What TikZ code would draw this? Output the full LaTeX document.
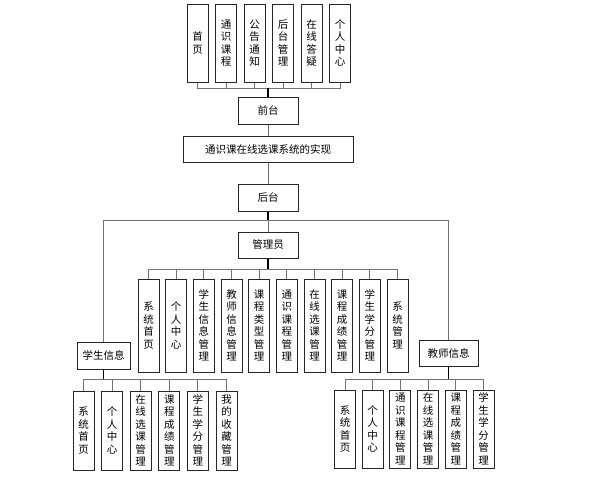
\documentclass[tikz,border=0pt]{standalone}
\usepackage{fontspec}
\newfontfamily\cjk{Noto Sans CJK SC}
\begin{document}
\begin{tikzpicture}[x=1pt,y=-1pt,
  every node/.style={font=\cjk\fontsize{10.5}{12.5}\selectfont},
  bx/.style={draw=black!85,line width=1pt,fill=white,inner sep=0pt,align=center},
  vbox/.style={bx,minimum width=21pt},
  ln/.style={draw=black!55,line width=1pt},
  tr/.style={draw=black,line width=1.2pt}]
\useasboundingbox (0,0) rectangle (601,482);
% top row
\foreach \n/\x/\t in {t1/197.5/{首\\页},t2/226/{通\\识\\课\\程},t3/254.5/{公\\告\\通\\知},t4/283/{后\\台\\管\\理},t5/311.5/{在\\线\\答\\疑},t6/340/{个\\人\\中\\心}}
  \node[vbox,minimum height=78pt] (\n) at (\x,43) {\t};
\node[bx,minimum width=60pt,minimum height=27pt] (qt) at (268,110.5) {前台};
\node[bx,minimum width=170pt,minimum height=26pt] (sys) at (268,149) {通识课在线选课系统的实现};
\node[bx,minimum width=60pt,minimum height=27pt] (ht) at (268,197.5) {后台};
\node[bx,minimum width=60pt,minimum height=26pt] (gly) at (268,245) {管理员};
\node[bx,minimum width=53pt,minimum height=27pt] (stu) at (103.5,355.5) {学生信息};
\node[bx,minimum width=59pt,minimum height=26pt] (tea) at (448.5,353) {教师信息};
% admin row
\foreach \n/\x/\t in {a1/148.5/{系\\统\\首\\页},a2/176.2/{个\\人\\中\\心},a3/203.8/{学\\生\\信\\息\\管\\理},a4/231.5/{教\\师\\信\\息\\管\\理},a5/259.2/{课\\程\\类\\型\\管\\理},a6/286.8/{通\\识\\课\\程\\管\\理},a7/314.5/{在\\线\\选\\课\\管\\理},a8/342.2/{课\\程\\成\\绩\\管\\理},a9/369.8/{学\\生\\学\\分\\管\\理},a10/397.5/{系\\统\\管\\理}}
  \node[vbox,minimum height=93pt] (\n) at (\x,325.5) {\t};
% student row
\foreach \n/\x/\t in {s1/83.5/{系\\统\\首\\页},s2/112.1/{个\\人\\中\\心},s3/140.7/{在\\线\\选\\课\\管\\理},s4/169.3/{课\\程\\成\\绩\\管\\理},s5/197.9/{学\\生\\学\\分\\管\\理},s6/226.5/{我\\的\\收\\藏\\管\\理}}
  \node[vbox,minimum height=79pt] (\n) at (\x,430.5) {\t};
% teacher row
\foreach \n/\x/\t in {e1/345/{系\\统\\首\\页},e2/372.7/{个\\人\\中\\心},e3/400.4/{通\\识\\课\\程\\管\\理},e4/428.1/{在\\线\\选\\课\\管\\理},e5/455.8/{课\\程\\成\\绩\\管\\理},e6/483.5/{学\\生\\学\\分\\管\\理}}
  \node[vbox,minimum height=78pt] (\n) at (\x,429) {\t};
% buses
\coordinate (b1) at (268,88);
\coordinate (b2) at (268,220);
\coordinate (b3) at (268,269);
\coordinate (b4) at (103.5,379);
\coordinate (b5) at (448.5,379);
\begin{scope}[on background layer/.try]
\foreach \n in {t1,t2,t3,t4,t5,t6} \draw[ln] (\n.south) |- (b1);
\draw[tr] (b1) -- (qt.north);
\draw[ln] (qt.south) -- (sys.north);
\draw[ln] (sys.south) -- (ht.north);
\draw[tr] (ht.south) -- (b2);
\draw[ln] (b2) -| (stu.north);
\draw[ln] (b2) -| (tea.north);
\draw[ln] (b2) -- (gly.north);
\draw[tr] (gly.south) -- (b3);
\foreach \n in {a1,a2,a3,a4,a5,a6,a7,a8,a9,a10} \draw[ln] (b3) -| (\n.north);
\draw[tr] (stu.south) -- (b4);
\foreach \n in {s1,s2,s3,s4,s5,s6} \draw[ln] (b4) -| (\n.north);
\draw[tr] (tea.south) -- (b5);
\foreach \n in {e1,e2,e3,e4,e5,e6} \draw[ln] (b5) -| (\n.north);
\end{scope}
\end{tikzpicture}
\end{document}
